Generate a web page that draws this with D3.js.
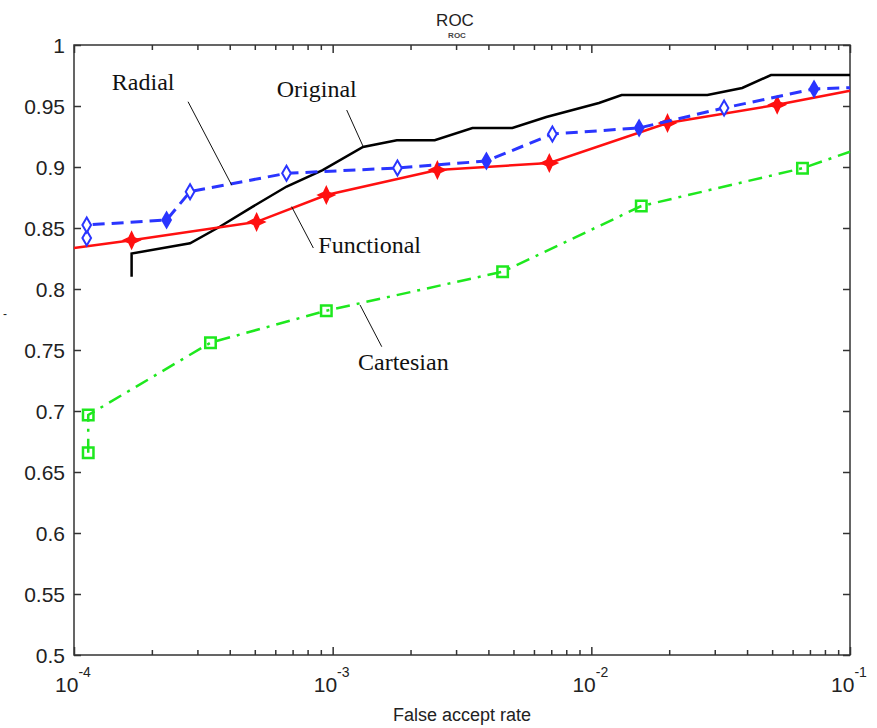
<!DOCTYPE html>
<html>
<head>
<meta charset="utf-8">
<script src="https://cdn.jsdelivr.net/npm/d3@7/dist/d3.min.js"></script>
<style>
  body { margin: 0; background: #fff; }
  svg { display: block; }
</style>
</head>
<body>
<div id="chart"></div>
<script>
// False accept rate (x) and verification rate (y) for each method
const originalFar = [1.67e-4, 1.67e-4, 2.81e-4, 3.66e-4, 4.91e-4, 6.64e-4, 9.15e-4, 1.31e-3, 1.77e-3, 2.48e-3, 3.47e-3, 4.95e-3, 6.7e-3, 1.07e-2, 1.31e-2, 2.81e-2, 3.83e-2, 4.95e-2, 1e-1];
const originalRate = [0.810, 0.829, 0.8375, 0.851, 0.8675, 0.884, 0.8975, 0.9164, 0.922, 0.922, 0.932, 0.932, 0.941, 0.9525, 0.959, 0.959, 0.9648, 0.9754, 0.9754];

const functionalFar = [1e-4, 1.67e-4, 5.08e-4, 9.45e-4, 2.54e-3, 6.88e-3, 1.97e-2, 5.23e-2, 1e-1];
const functionalRate = [0.8336, 0.840, 0.855, 0.877, 0.8975, 0.9033, 0.936, 0.951, 0.9625];
const functionalMarked = [false, true, true, true, true, true, true, true, false];

const radialFar = [1.12e-4, 1.12e-4, 2.28e-4, 2.81e-4, 6.63e-4, 1.78e-3, 3.93e-3, 7.07e-3, 1.53e-2, 3.26e-2, 7.26e-2, 1e-1];
const radialRate = [0.8418, 0.8525, 0.8566, 0.8798, 0.8948, 0.8992, 0.9049, 0.927, 0.932, 0.9484, 0.964, 0.965];
const radialMarker = ["open", "open", "filled", "open", "open", "open", "filled", "open", "filled", "open", "filled", "none"];

const cartesianFar = [1.135e-4, 1.135e-4, 3.37e-4, 9.45e-4, 4.54e-3, 1.56e-2, 6.55e-2, 1e-1];
const cartesianRate = [0.6658, 0.6967, 0.756, 0.7822, 0.8142, 0.868, 0.899, 0.9125];
const cartesianMarked = [true, true, true, true, true, true, true, false];

const yTicks = [0.5, 0.55, 0.6, 0.65, 0.7, 0.75, 0.8, 0.85, 0.9, 0.95, 1];
const yTickLabels = ["0.5", "0.55", "0.6", "0.65", "0.7", "0.75", "0.8", "0.85", "0.9", "0.95", "1"];
const xExponents = [-4, -3, -2, -1];

// Label text, text anchor point and leader line ends, in data units
const annotations = [
  {text: "Radial", x: 1.40e-4, y: 0.9629, lx1: 2.76e-4, ly1: 0.9535, lx2: 4.07e-4, ly2: 0.8852},
  {text: "Original", x: 6.08e-4, y: 0.9574, lx1: 1.133e-3, ly1: 0.9467, lx2: 1.313e-3, ly2: 0.9166},
  {text: "Functional", x: 8.80e-4, y: 0.8291, lx1: 6.94e-4, ly1: 0.8675, lx2: 8.42e-4, ly2: 0.8336},
  {text: "Cartesian", x: 1.253e-3, y: 0.7336, lx1: 1.276e-3, ly1: 0.7869, lx2: 1.548e-3, ly2: 0.7527}
];

const width = 877, height = 728;
const margin = {top: 45, right: 27, bottom: 73, left: 74};

const svg = d3.select("#chart").append("svg")
  .attr("width", width)
  .attr("height", height);

const x = d3.scaleLog().domain([1e-4, 1e-1]).range([margin.left, width - margin.right]);
const y = d3.scaleLinear().domain([0.5, 1]).range([height - margin.bottom, margin.top]);

const axisColor = "#333";
const tickFont = "Arial, 'Liberation Sans', sans-serif";

// log ticks: 1..9 in each decade
const xTicks = x.ticks();
const isMajor = v => Math.abs(Math.log10(v) - Math.round(Math.log10(v))) < 1e-9;

function styleAxis(g) {
  g.select(".domain").remove();
  g.selectAll("line").attr("stroke", axisColor).attr("stroke-width", 1.5);
}

// bottom and top axes (inside ticks)
svg.append("g")
  .attr("transform", `translate(0,${y(0.5)})`)
  .call(d3.axisBottom(x).tickValues(xTicks).tickSize(-5).tickFormat(""))
  .call(styleAxis)
  .selectAll(".tick line").attr("y2", d => isMajor(d) ? -8 : -5);

svg.append("g")
  .attr("transform", `translate(0,${y(1)})`)
  .call(d3.axisTop(x).tickValues(xTicks).tickSize(-5).tickFormat(""))
  .call(styleAxis)
  .selectAll(".tick line").attr("y2", d => isMajor(d) ? 8 : 5);

// left and right axes
svg.append("g")
  .attr("transform", `translate(${x(1e-4)},0)`)
  .call(d3.axisLeft(y).tickValues(yTicks).tickSize(-7).tickFormat(""))
  .call(styleAxis);

svg.append("g")
  .attr("transform", `translate(${x(1e-1)},0)`)
  .call(d3.axisRight(y).tickValues(yTicks).tickSize(-7).tickFormat(""))
  .call(styleAxis);

// box
svg.append("rect")
  .attr("x", x(1e-4)).attr("y", y(1))
  .attr("width", x(1e-1) - x(1e-4)).attr("height", y(0.5) - y(1))
  .attr("fill", "none").attr("stroke", axisColor).attr("stroke-width", 1.5);

// y tick labels
svg.append("g").selectAll("text")
  .data(yTicks)
  .join("text")
  .attr("x", x(1e-4) - 9)
  .attr("y", d => y(d))
  .attr("dy", "0.36em")
  .attr("text-anchor", "end")
  .attr("font-family", tickFont)
  .attr("font-size", 21)
  .attr("fill", "#222")
  .text((d, i) => yTickLabels[i]);

// x tick labels 10^n
const xl = svg.append("g").selectAll("text")
  .data(xExponents)
  .join("text")
  .attr("x", d => x(Math.pow(10, d)) - 1)
  .attr("y", y(0.5) + 37)
  .attr("text-anchor", "middle")
  .attr("font-family", tickFont)
  .attr("font-size", 21)
  .attr("fill", "#222");
xl.append("tspan").text("10");
xl.append("tspan").attr("font-size", 14).attr("dy", -15).text(d => d);

// title with its small subscript
svg.append("text")
  .attr("x", 455).attr("y", 26)
  .attr("text-anchor", "middle")
  .attr("font-family", tickFont)
  .attr("font-size", 17)
  .attr("fill", "#222")
  .text("ROC");
svg.append("text")
  .attr("x", 457).attr("y", 38)
  .attr("text-anchor", "middle")
  .attr("font-family", tickFont)
  .attr("font-size", 8)
  .attr("font-weight", "bold")
  .attr("fill", "#444")
  .text("ROC");

svg.append("text")
  .attr("x", (x(1e-4) + x(1e-1)) / 2).attr("y", 721)
  .attr("text-anchor", "middle")
  .attr("font-family", tickFont)
  .attr("font-size", 18)
  .attr("fill", "#222")
  .text("False accept rate");

svg.append("text")
  .attr("x", 3).attr("y", 318)
  .attr("font-family", tickFont)
  .attr("font-size", 12)
  .attr("fill", "#222")
  .text("-");

const line = d3.line().x(d => x(d[0])).y(d => y(d[1]));
const zip = (a, b) => a.map((v, i) => [v, b[i]]);

const plot = svg.append("g");

// Cartesian: green dash-dot with open squares
plot.append("path")
  .attr("d", line(zip(cartesianFar, cartesianRate)))
  .attr("fill", "none").attr("stroke", "#1ee81e").attr("stroke-width", 2.5)
  .attr("stroke-dasharray", "14,7,3,7");
plot.append("g").selectAll("path")
  .data(zip(cartesianFar, cartesianRate).filter((d, i) => cartesianMarked[i]))
  .join("path")
  .attr("transform", d => `translate(${x(d[0])},${y(d[1])})`)
  .attr("d", d3.symbol(d3.symbolSquare, 110))
  .attr("fill", "none").attr("stroke", "#1ee81e").attr("stroke-width", 2.5);

// Original: black solid
plot.append("path")
  .attr("d", line(zip(originalFar, originalRate)))
  .attr("fill", "none").attr("stroke", "#000").attr("stroke-width", 2.5);

// Functional: red solid with four point stars
const star4 = {
  draw(ctx, size) {
    const r = Math.sqrt(size) * 0.75, s = r * 0.32;
    ctx.moveTo(0, -r);
    ctx.lineTo(s, -s);
    ctx.lineTo(r, 0);
    ctx.lineTo(s, s);
    ctx.lineTo(0, r);
    ctx.lineTo(-s, s);
    ctx.lineTo(-r, 0);
    ctx.lineTo(-s, -s);
    ctx.closePath();
  }
};
plot.append("path")
  .attr("d", line(zip(functionalFar, functionalRate)))
  .attr("fill", "none").attr("stroke", "#ff1010").attr("stroke-width", 2.5);
plot.append("g").selectAll("path")
  .data(zip(functionalFar, functionalRate).filter((d, i) => functionalMarked[i]))
  .join("path")
  .attr("transform", d => `translate(${x(d[0])},${y(d[1])})`)
  .attr("d", d3.symbol(star4, 120))
  .attr("fill", "#ff1010").attr("stroke", "#ff1010").attr("stroke-width", 1.5);

// Radial: blue dashed with diamonds
plot.append("path")
  .attr("d", line(zip(radialFar, radialRate)))
  .attr("fill", "none").attr("stroke", "#2a35ff").attr("stroke-width", 3)
  .attr("stroke-dasharray", "12,7");
plot.append("g").selectAll("path")
  .data(zip(radialFar, radialRate).map((d, i) => [d[0], d[1], radialMarker[i]]).filter(d => d[2] !== "none"))
  .join("path")
  .attr("transform", d => `translate(${x(d[0])},${y(d[1])})`)
  .attr("d", d3.symbol(d3.symbolDiamond, 65))
  .attr("fill", d => d[2] === "filled" ? "#2a35ff" : "#fff")
  .attr("stroke", "#2a35ff").attr("stroke-width", 2);

// annotations
const ann = svg.append("g");
ann.selectAll("line")
  .data(annotations)
  .join("line")
  .attr("x1", d => x(d.lx1)).attr("y1", d => y(d.ly1))
  .attr("x2", d => x(d.lx2)).attr("y2", d => y(d.ly2))
  .attr("stroke", "#111").attr("stroke-width", 1);
ann.selectAll("text")
  .data(annotations)
  .join("text")
  .attr("x", d => x(d.x)).attr("y", d => y(d.y))
  .attr("font-family", "'Liberation Serif', 'Times New Roman', serif")
  .attr("font-size", 24)
  .attr("fill", "#111")
  .text(d => d.text);
</script>
</body>
</html>
